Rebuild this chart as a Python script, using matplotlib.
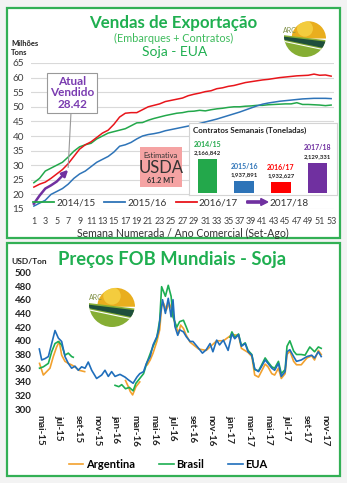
import numpy as np
import matplotlib.pyplot as plt
import matplotlib.patches as mpatches
from matplotlib.lines import Line2D
from matplotlib.legend_handler import HandlerPatch

W, H = 347, 483
plt.rcParams['font.family'] = ['Lato', 'DejaVu Sans']

# ---- vendas de exportacao (milhoes de toneladas, por semana) ----
semanas = list(range(1, 54))
safra_1415 = [24.0, 25.5, 28.0, 29.0, 30.0, 31.0, 32.8, 34.8, 36.3, 37.0, 37.5, 39.0, 40.0, 41.0,
              41.5, 42.0, 42.5, 43.5, 44.5, 44.6, 45.4, 46.0, 46.5, 47.0, 47.4, 47.8, 48.0, 48.4,
              48.5, 48.8, 48.6, 49.0, 49.3, 49.5, 49.8, 50.0, 50.0, 50.2, 50.3, 50.5, 50.5, 50.7,
              50.8, 50.9, 51.0, 51.0, 51.4, 50.8, 50.8, 50.7, 50.6, 50.4, 50.6]
safra_1516 = [16.0, 17.0, 18.0, 20.0, 21.0, 22.0, 23.5, 25.5, 27.0, 28.0, 29.5, 31.0, 32.0, 33.0,
              34.5, 36.5, 37.0, 37.8, 39.0, 40.0, 40.5, 40.8, 41.2, 41.8, 42.2, 42.6, 43.0, 43.4,
              43.8, 44.3, 44.8, 45.3, 45.8, 46.4, 47.0, 47.6, 48.2, 48.9, 49.6, 50.3, 50.9, 51.3,
              51.6, 51.9, 52.1, 52.3, 52.5, 52.7, 52.8, 52.9, 52.9, 52.9, 52.8]
safra_1617 = [22.5, 23.5, 24.2, 25.5, 27.0, 28.5, 30.5, 33.0, 35.5, 37.0, 38.0, 39.5, 41.0, 42.0,
              44.0, 46.5, 47.8, 48.0, 48.0, 49.0, 50.0, 50.5, 51.0, 51.8, 52.2, 52.6, 53.0, 53.8,
              54.3, 54.7, 55.2, 55.5, 56.2, 56.5, 57.0, 57.3, 57.8, 58.3, 58.6, 58.9, 59.2, 59.4,
              59.7, 60.0, 60.2, 60.4, 60.6, 60.7, 60.8, 61.2, 60.8, 60.9, 60.5]
safra_1718 = [16.8, 19.6, 22.0, 23.1, 24.4, 26.4, 28.42]

# ---- contratos semanais (toneladas) ----
anos = ['2014/15', '2015/16', '2016/17', '2017/18']
contratos = [2166842, 1937891, 1932627, 2129331]
contratos_txt = ['2,166,842', '1,937,891', '1,932,627', '2,129,331']

# ---- precos FOB (USD/ton), x = meses desde mai-15 ----
meses_lbl = ['mai-15', 'jul-15', 'set-15', 'nov-15', 'jan-16', 'mar-16', 'mai-16', 'jul-16',
             'set-16', 'nov-16', 'jan-17', 'mar-17', 'mai-17', 'jul-17', 'set-17', 'nov-17']
eua_m = [-0.07, 0.18, 0.53, 0.88, 1.23, 1.58, 1.93, 2.28, 2.63, 2.98, 3.33, 3.68, 4.03, 4.38, 4.74,
         5.08, 5.44, 5.96, 6.49, 6.84, 7.19, 7.54, 7.9, 8.42, 8.95, 9.3, 9.8, 10.2, 10.5, 10.9, 11.2,
         11.6, 11.9, 12.3, 12.5, 12.7, 12.9, 13.2, 13.5, 13.8, 14.0, 14.2, 14.5, 14.7, 15.1, 15.4,
         15.8, 16.1, 16.7, 17.1, 17.5, 17.9, 18.2, 18.6, 18.9, 19.3, 19.8, 20.2, 20.5, 20.9, 21.2,
         21.6, 21.9, 22.3, 22.6, 23.0, 23.3, 23.7, 24.0, 24.4, 24.7, 25.1, 25.4, 25.8, 26.0, 26.3,
         26.7, 27.0, 27.5, 28.1, 28.6, 28.9, 29.3, 29.6]
eua_v = [388, 372, 374, 377, 396, 415, 404, 399, 377, 367, 360, 363, 357, 362, 360,
         369, 357, 345, 350, 357, 348, 355, 348, 351, 347, 343, 338, 347, 352, 355, 367,
         377, 394, 406, 416, 440, 460, 440, 462, 435, 460, 421, 408, 416, 413, 406,
         399, 399, 389, 382, 387, 396, 384, 401, 394, 401, 386, 410, 403, 409, 392,
         396, 384, 379, 359, 355, 362, 372, 367, 360, 357, 367, 348, 355, 384, 387,
         377, 370, 372, 377, 379, 375, 384, 377]
arg_m = [-0.05, 0.35, 0.7, 1.05, 1.4, 1.75, 2.03, 2.28, 2.63, 2.98, 3.3, 3.68, 4.1, 4.7, 4.8,
         9.0, 9.3, 9.5, 9.75, 10.1, 10.5, 10.6,
         11.3, 11.6, 11.9, 12.3, 12.6, 12.8, 13.0, 13.3, 13.6, 13.9, 14.2, 14.6, 14.8, 15.1, 15.4,
         15.8, 16.7, 17.5, 18.6, 19.3, 20.2, 20.9, 21.2, 21.9, 22.3, 22.6, 23.0, 23.3, 23.7, 24.0,
         24.4, 24.7, 25.1, 25.4, 25.8, 26.0, 26.3, 26.7, 27.0, 27.5, 28.1, 28.6, 28.9, 29.3, 29.6]
arg_v = [367, 350, 355, 360, 377, 391, 399, 379, 370, 367, 365, 362, 357, 355, np.nan,
         342, 333, 326, 321, 333, 340, np.nan,
         365, 372, 382, 399, 416, 450, 455, 445, 455, 445, 425, 411, 423, 418, 408,
         398, 388, 386, 400, 400, 409, 408, 389, 383, 377, 350, 347, 355, 366, 362,
         352, 350, 360, 345, 352, 380, 385, 370, 365, 365, 375, 378, 372, 386, 380]
bra_m = [-0.05, 0.35, 0.88, 1.23, 1.58, 1.93, 2.28, 2.63, 2.98, 3.33, 3.5, 3.6,
         7.9, 8.3, 8.6, 9.0, 9.4, 9.8, 10.1, 10.5, 10.9, 11.3, 11.7, 12.0, 12.3, 12.6, 12.8, 13.2,
         13.5, 13.8, 14.0, 14.4, 14.7, 15.1, 15.4, 15.6, 15.7,
         20.0, 20.2, 20.5, 20.9, 21.2, 21.6, 21.9, 22.3, 22.6, 23.0, 23.3, 23.7, 24.0, 24.4, 24.7,
         25.1, 25.4, 25.8, 26.0, 26.3, 26.7, 27.0, 27.5, 27.9, 28.4, 28.9, 29.3, 29.6]
bra_v = [360, 362, 367, 384, 396, 399, 394, 379, 382, 377, 376, np.nan,
         335, 333, 336, 330, 332, 327, 338, 345, 352, 370, 385, 395, 405, 430, 479, 465,
         481, 465, 435, 420, 428, 430, 420, 413, np.nan,
         405, 413, 405, 410, 393, 397, 386, 380, 358, 356, 364, 375, 369, 362, 360,
         370, 352, 358, 392, 400, 385, 380, 380, 379, 391, 384, 391, 389]

VERDE = '#1FAF50'
C1415, C1516, C1617, C1718 = '#23A84B', '#2E74B8', '#E8151B', '#7030A0'


def rect(x0, y0, x1, y1):
    return [x0 / W, 1 - y1 / H, (x1 - x0) / W, (y1 - y0) / H]


def txt(x, y, s, **kw):
    fig.text(x / W, 1 - y / H, s, **kw)


class ArrowHandler(HandlerPatch):
    def create_artists(self, legend, orig, xd, yd, w, h, fs, trans):
        p = mpatches.FancyArrow(-xd, -yd + h / 2, w, 0, width=1.6, head_width=5, head_length=5,
                                length_includes_head=True, color=C1718, transform=trans)
        return [p]


def logo(cx, cy, r):
    ax = fig.add_axes(rect(cx - r, cy - r, cx + r, cy + r))
    ax.set_xlim(-1, 1)
    ax.set_ylim(-1, 1)
    ax.axis('off')
    disco = mpatches.Circle((0, 0), 1, transform=ax.transData)
    sol = mpatches.Wedge((0.18, -0.12), 0.82, 0, 180, fc='#E9AE1E', ec='none')
    ax.add_patch(sol)
    brilho = mpatches.Circle((0.0, 0.35), 0.38, fc='#F6D447', ec='none', alpha=0.8)
    ax.add_patch(brilho)
    brilho.set_clip_path(sol)
    xs = np.linspace(-1, 1, 40)
    topo = -0.08 - 0.12 * xs
    faixa = -0.18 - 0.42 * (xs + 1) / 2
    campo = mpatches.Polygon(np.r_[np.c_[xs, topo], [[1, -1], [-1, -1]]], fc='#86AE34', ec='none')
    escuro = mpatches.Polygon(np.r_[np.c_[xs, topo - 0.07], np.c_[xs[::-1], faixa[::-1]]],
                              fc='#1E4F3C', ec='none')
    linha = mpatches.Polygon(np.r_[np.c_[xs, faixa - 0.05], np.c_[xs[::-1], faixa[::-1] - 0.1]],
                             fc='white', ec='none')
    for p in (campo, escuro, linha):
        ax.add_patch(p)
        p.set_clip_path(disco)
    ax.text(-0.72, 0.28, 'ARC', fontsize=5, color='#7E8F45', ha='center', va='center')


fig = plt.figure(figsize=(W / 100, H / 100), dpi=100, facecolor='#f3f3f3')
for y0, y1 in [(8, 238), (243, 476)]:
    fig.patches.append(mpatches.Rectangle((7 / W, 1 - y1 / H), 333 / W, (y1 - y0) / H,
                                          transform=fig.transFigure, fc='white', ec='#33B055',
                                          lw=1.6, zorder=-5))

# ---------------- painel superior ----------------
ax1 = fig.add_axes(rect(31, 63, 334, 209))
ax1.set_facecolor('none')
ax1.plot(semanas, safra_1415, color=C1415, lw=1.1)
ax1.plot(semanas, safra_1516, color=C1516, lw=1.1)
ax1.plot(semanas, safra_1617, color=C1617, lw=1.1)
ax1.plot(semanas[:6], safra_1718[:6], color=C1718, lw=1.8)
ax1.annotate('', xy=(semanas[6], safra_1718[6]), xytext=(semanas[5], safra_1718[5]),
             arrowprops=dict(arrowstyle='-|>', color=C1718, lw=1.8, mutation_scale=9,
                             shrinkA=0, shrinkB=0))
ax1.set_xlim(0.5, 53.5)
ax1.set_ylim(15, 65)
ax1.set_xticks(semanas[::2])
ax1.set_yticks(range(15, 66, 5))
ax1.tick_params(length=0, labelsize=6.4, colors='#404040', pad=6)
ax1.tick_params(axis='y', labelsize=7.2, pad=5)
ax1.grid(axis='y', color='#d9d9d9', lw=0.8)
for s in ax1.spines.values():
    s.set_visible(False)
ax1.set_xlabel('Semana Numerada / Ano Comercial (Set-Ago)', fontsize=7.6, color='#333333',
               labelpad=1)

ax1.annotate('Atual\nVendido\n28.42', xy=(semanas[6], safra_1718[6] + 0.8), xytext=(72, H - 93),
             textcoords='figure pixels', ha='center', va='center', fontsize=8.5,
             fontweight='bold', color='#7A3CB0', linespacing=1.05,
             bbox=dict(boxstyle='square,pad=0.25', fc='white', ec='#999999', lw=0.8),
             arrowprops=dict(arrowstyle='-', color='#999999', lw=0.8, shrinkA=0, shrinkB=0))

h_leg = [Line2D([], [], color=C1415, lw=1.3), Line2D([], [], color=C1516, lw=1.3),
         Line2D([], [], color=C1617, lw=1.3), mpatches.Patch(color=C1718)]
fig.legend(h_leg, anos, loc='center', bbox_to_anchor=(171 / W, 1 - 203 / H), ncol=4,
           frameon=False, fontsize=7.2, handlelength=2.1, handletextpad=0.2, columnspacing=0.9,
           handler_map={mpatches.Patch: ArrowHandler()}, labelcolor='#333333')

fig.patches.append(mpatches.Rectangle((140 / W, 1 - 187 / H), 42 / W, 40 / H,
                                      transform=fig.transFigure, fc='#F5A3A3', ec='none'))
txt(161, 155, 'Estimativa', fontsize=5.4, ha='center', va='center', color='#333333')
txt(161, 168, 'USDA', fontsize=12, ha='center', va='center', color='#333333')
txt(161, 180.5, '61.2 MT', fontsize=5.2, ha='center', va='center', fontweight='bold',
    color='#333333')

# grafico de barras embutido
ax3 = fig.add_axes(rect(189, 123, 337, 195))
ax3.set_zorder(3)
ax3.set_facecolor('white')
for s in ax3.spines.values():
    s.set_color('#d4d4d4')
    s.set_linewidth(0.8)
base = 1.82e6
cores = [C1415, C1516, '#FF0000', C1718]
pos = np.arange(len(anos))
ax3.bar(pos, np.array(contratos) - base, bottom=base, width=0.53, color=cores)
for i in pos:
    ax3.annotate(contratos_txt[i], (pos[i], contratos[i]), xytext=(0, 4.5),
                 textcoords='offset points', ha='center', va='center', fontsize=4.3,
                 fontweight='bold', color='#222222')
    ax3.annotate(anos[i], (pos[i], contratos[i]), xytext=(0, 10.5), textcoords='offset points',
                 ha='center', va='center', fontsize=5, fontweight='bold', color=cores[i])
ax3.set_xlim(-0.5, 3.53)
ax3.set_ylim(1.80e6, 2.53e6)
ax3.set_xticks([])
ax3.set_yticks([])
ax3.text(0.03, 0.9, 'Contratos Semanais (Toneladas)', transform=ax3.transAxes, fontsize=5.8,
         fontweight='bold', color='#222222', va='center')

txt(173, 23, 'Vendas de Exportação', fontsize=12.2, fontweight='bold', color=VERDE,
    ha='center', va='center')
txt(174, 38, '(Embarques + Contratos)', fontsize=7.8, color='#3DBB5C', ha='center',
    va='center')
txt(175, 52, 'Soja - EUA', fontsize=10, color=VERDE, ha='center', va='center')
txt(11, 48, 'Milhões\nTons', fontsize=5.5, fontweight='bold', color='#222222', va='center',
    linespacing=1.3)
logo(305, 36, 21)

# ---------------- painel inferior ----------------
ax2 = fig.add_axes(rect(37.15, 272.3, 329.75, 409.3))
ax2.set_facecolor('none')
ax2.plot(arg_m, arg_v, color='#F2A12E', lw=1.2, label='Argentina')
ax2.plot(bra_m, bra_v, color='#1DAE52', lw=1.2, label='Brasil')
ax2.plot(eua_m, eua_v, color='#1F6EBB', lw=1.2, label='EUA')
ax2.set_xlim(-0.3, 30.5)
ax2.set_ylim(300, 500)
ax2.set_yticks(range(300, 501, 20))
ax2.set_xticks(range(0, 31, 2))
ax2.set_xticklabels(meses_lbl, rotation=-90, fontweight='bold')
for t in ax2.get_yticklabels():
    t.set_fontweight('bold')
ax2.tick_params(length=0, labelsize=7, colors='#222222', pad=4)
for s in ax2.spines.values():
    s.set_visible(False)
fig.legend(*ax2.get_legend_handles_labels(), loc='center', bbox_to_anchor=(168 / W, 1 - 464 / H),
           ncol=3, frameon=False, handlelength=1.3, handletextpad=0.2,
           columnspacing=2.2, prop={'weight': 'bold', 'size': 8})

txt(11, 261, 'USD/Ton', fontsize=6, fontweight='bold', color='#222222', va='center')
txt(172, 259, 'Preços FOB Mundiais - Soja', fontsize=13.2, fontweight='bold', color=VERDE,
    ha='center', va='center')
logo(112, 304, 23)

fig.savefig('out.png', dpi=100, facecolor=fig.get_facecolor())
